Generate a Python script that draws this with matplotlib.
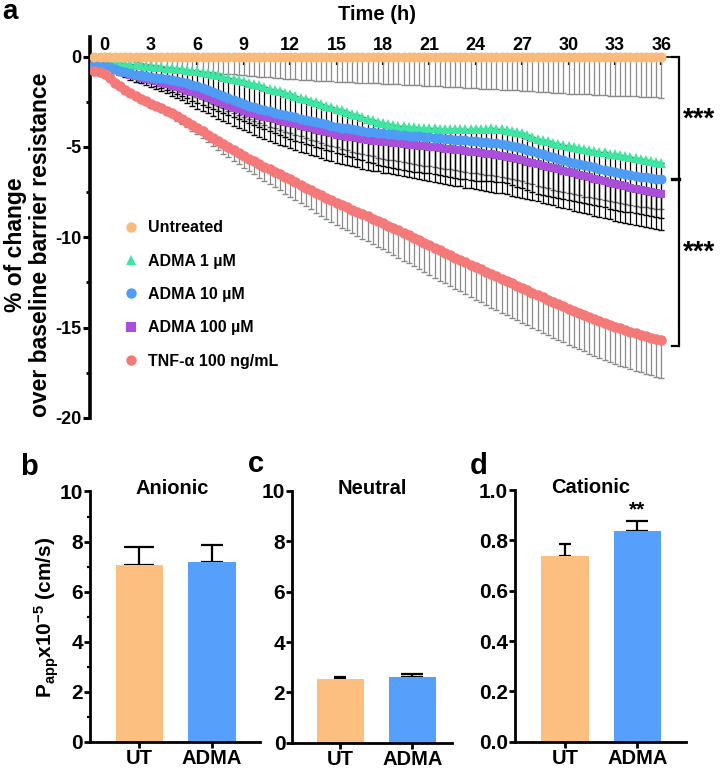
import numpy as np
import matplotlib
matplotlib.use("Agg")
import matplotlib.pyplot as plt
from matplotlib.lines import Line2D

plt.rcParams['font.family'] = ['Liberation Sans', 'DejaVu Sans']
plt.rcParams['font.weight'] = 'bold'
plt.rcParams['axes.unicode_minus'] = False
plt.rcParams['mathtext.fontset'] = 'custom'
plt.rcParams['mathtext.rm'] = 'Liberation Sans:bold'
plt.rcParams['mathtext.it'] = 'Liberation Sans:bold'
plt.rcParams['mathtext.bf'] = 'Liberation Sans:bold'

# ---------------- panel a data: % change of barrier resistance (every 20 min) ----------------
time_min = np.arange(-40, 2161, 20)
time_h = time_min / 60.0

untreated = [
    0.0, 0.0,
    0.0, 0.0, 0.0, 0.0, 0.0, 0.0, 0.0, 0.0, 0.0, 0.0, 0.0, 0.0,
    0.0, 0.0, 0.0, 0.0, 0.0, 0.0, 0.0, 0.0, 0.0, 0.0, 0.0, 0.0,
    0.0, 0.0, 0.0, 0.0, 0.0, 0.0, 0.0, 0.0, 0.0, 0.0, 0.0, 0.0,
    0.0, 0.0, 0.0, 0.0, 0.0, 0.0, 0.0, 0.0, 0.0, 0.0, 0.0, 0.0,
    0.0, 0.0, 0.0, 0.0, 0.0, 0.0, 0.0, 0.0, 0.0, 0.0, 0.0, 0.0,
    0.0, 0.0, 0.0, 0.0, 0.0, 0.0, 0.0, 0.0, 0.0, 0.0, 0.0, 0.0,
    0.0, 0.0, 0.0, 0.0, 0.0, 0.0, 0.0, 0.0, 0.0, 0.0, 0.0, 0.0,
    0.0, 0.0, 0.0, 0.0, 0.0, 0.0, 0.0, 0.0, 0.0, 0.0, 0.0, 0.0,
    0.0, 0.0, 0.0, 0.0, 0.0, 0.0, 0.0, 0.0, 0.0, 0.0, 0.0, 0.0,
    0.0,
]
untreated_err = [
    0.00, 0.00,
    0.00, 0.05, 0.10, 0.15, 0.20, 0.25, 0.30, 0.35, 0.40,
    0.45, 0.49, 0.53, 0.57, 0.61, 0.65, 0.68, 0.72, 0.76,
    0.80, 0.83, 0.86, 0.88, 0.91, 0.94, 0.97, 0.99, 1.02,
    1.05, 1.07, 1.09, 1.12, 1.14, 1.16, 1.18, 1.21, 1.23,
    1.25, 1.27, 1.28, 1.30, 1.32, 1.33, 1.35, 1.37, 1.38,
    1.40, 1.41, 1.42, 1.43, 1.44, 1.46, 1.47, 1.48, 1.49,
    1.50, 1.51, 1.53, 1.54, 1.55, 1.57, 1.58, 1.59, 1.61,
    1.62, 1.63, 1.65, 1.66, 1.68, 1.69, 1.71, 1.72, 1.74,
    1.75, 1.77, 1.78, 1.80, 1.82, 1.83, 1.85, 1.87, 1.88,
    1.90, 1.92, 1.93, 1.95, 1.97, 1.98, 2.00, 2.02, 2.03,
    2.05, 2.06, 2.08, 2.09, 2.10, 2.12, 2.13, 2.14, 2.16,
    2.17, 2.18, 2.19, 2.20, 2.21, 2.23, 2.24, 2.25, 2.26,
    2.27,
]

adma1 = [
    -0.30, -0.31,
    -0.32, -0.34, -0.36, -0.38, -0.41, -0.43, -0.46, -0.49, -0.51,
    -0.54, -0.57, -0.59, -0.62, -0.65, -0.68, -0.71, -0.75, -0.78,
    -0.82, -0.87, -0.93, -0.98, -1.04, -1.11, -1.17, -1.24, -1.30,
    -1.37, -1.45, -1.52, -1.60, -1.68, -1.77, -1.85, -1.93, -2.02,
    -2.10, -2.19, -2.27, -2.36, -2.45, -2.53, -2.62, -2.71, -2.79,
    -2.88, -2.97, -3.07, -3.16, -3.26, -3.35, -3.45, -3.53, -3.62,
    -3.70, -3.74, -3.79, -3.83, -3.86, -3.89, -3.92, -3.94, -3.95,
    -3.97, -3.98, -4.00, -4.01, -4.02, -4.02, -4.03, -4.02, -4.02,
    -4.01, -4.00, -3.99, -3.98, -3.99, -4.01, -4.04, -4.10, -4.18,
    -4.25, -4.35, -4.45, -4.55, -4.63, -4.70, -4.78, -4.84, -4.89,
    -4.95, -5.00, -5.05, -5.10, -5.15, -5.21, -5.26, -5.31, -5.37,
    -5.42, -5.47, -5.53, -5.58, -5.63, -5.69, -5.74, -5.79, -5.85,
    -5.90,
]
adma1_err = [
    0.10, 0.14,
    0.18, 0.27, 0.35, 0.44, 0.52, 0.61, 0.69, 0.78, 0.86,
    0.95, 1.04, 1.13, 1.22, 1.31, 1.39, 1.48, 1.57, 1.66,
    1.75, 1.80, 1.85, 1.90, 1.95, 2.00, 2.05, 2.10, 2.15,
    2.20, 2.23, 2.26, 2.28, 2.31, 2.34, 2.37, 2.39, 2.42,
    2.45, 2.46, 2.46, 2.46, 2.46, 2.46, 2.46, 2.45, 2.45,
    2.45, 2.44, 2.43, 2.42, 2.41, 2.39, 2.38, 2.37, 2.36,
    2.35, 2.37, 2.38, 2.40, 2.42, 2.43, 2.45, 2.47, 2.48,
    2.50, 2.54, 2.58, 2.62, 2.66, 2.69, 2.73, 2.77, 2.81,
    2.85, 2.87, 2.89, 2.92, 2.94, 2.96, 2.98, 3.01, 3.03,
    3.05, 3.04, 3.04, 3.03, 3.03, 3.02, 3.02, 3.01, 3.01,
    3.00, 3.01, 3.01, 3.02, 3.02, 3.03, 3.03, 3.04, 3.04,
    3.05, 3.05, 3.05, 3.05, 3.05, 3.05, 3.05, 3.05, 3.05,
    3.05,
]

adma10 = [
    -0.45, -0.48,
    -0.50, -0.60, -0.70, -0.80, -0.87, -0.93, -1.00, -1.04, -1.09,
    -1.13, -1.17, -1.21, -1.25, -1.31, -1.36, -1.42, -1.49, -1.57,
    -1.64, -1.74, -1.85, -1.95, -2.07, -2.18, -2.30, -2.41, -2.51,
    -2.62, -2.71, -2.79, -2.88, -2.95, -3.03, -3.10, -3.17, -3.23,
    -3.30, -3.37, -3.43, -3.50, -3.57, -3.63, -3.70, -3.76, -3.82,
    -3.88, -3.93, -3.98, -4.03, -4.07, -4.11, -4.15, -4.18, -4.22,
    -4.25, -4.28, -4.30, -4.33, -4.35, -4.38, -4.40, -4.42, -4.45,
    -4.47, -4.50, -4.52, -4.55, -4.57, -4.60, -4.62, -4.64, -4.67,
    -4.69, -4.72, -4.74, -4.77, -4.81, -4.84, -4.88, -4.94, -5.00,
    -5.06, -5.15, -5.23, -5.32, -5.41, -5.49, -5.58, -5.66, -5.74,
    -5.82, -5.89, -5.95, -6.02, -6.08, -6.14, -6.20, -6.26, -6.32,
    -6.38, -6.44, -6.49, -6.55, -6.60, -6.64, -6.69, -6.73, -6.76,
    -6.80,
]
adma10_err = [
    0.03, 0.04,
    0.05, 0.07, 0.09, 0.12, 0.14, 0.16, 0.18, 0.21, 0.23,
    0.25, 0.29, 0.33, 0.37, 0.41, 0.44, 0.48, 0.52, 0.56,
    0.60, 0.62, 0.63, 0.65, 0.67, 0.68, 0.70, 0.72, 0.73,
    0.75, 0.77, 0.79, 0.82, 0.84, 0.86, 0.88, 0.91, 0.93,
    0.95, 0.97, 0.99, 1.02, 1.04, 1.06, 1.08, 1.11, 1.13,
    1.15, 1.18, 1.21, 1.23, 1.26, 1.29, 1.32, 1.34, 1.37,
    1.40, 1.42, 1.44, 1.47, 1.49, 1.51, 1.53, 1.56, 1.58,
    1.60, 1.62, 1.64, 1.66, 1.68, 1.70, 1.72, 1.74, 1.76,
    1.78, 1.79, 1.80, 1.80, 1.81, 1.82, 1.83, 1.83, 1.84,
    1.85, 1.84, 1.83, 1.82, 1.81, 1.79, 1.78, 1.77, 1.76,
    1.75, 1.74, 1.73, 1.73, 1.72, 1.71, 1.70, 1.70, 1.69,
    1.68, 1.68, 1.67, 1.67, 1.67, 1.66, 1.66, 1.66, 1.65,
    1.65,
]

adma100 = [
    -0.45, -0.48,
    -0.50, -0.62, -0.73, -0.85, -0.93, -1.02, -1.10, -1.17, -1.24,
    -1.31, -1.38, -1.45, -1.52, -1.61, -1.69, -1.78, -1.89, -1.99,
    -2.10, -2.21, -2.31, -2.42, -2.53, -2.63, -2.74, -2.84, -2.93,
    -3.03, -3.11, -3.19, -3.27, -3.34, -3.41, -3.48, -3.55, -3.61,
    -3.68, -3.75, -3.83, -3.90, -3.97, -4.05, -4.12, -4.19, -4.25,
    -4.32, -4.37, -4.43, -4.48, -4.52, -4.57, -4.61, -4.65, -4.68,
    -4.72, -4.75, -4.78, -4.81, -4.84, -4.87, -4.90, -4.93, -4.96,
    -4.99, -5.02, -5.06, -5.09, -5.12, -5.16, -5.19, -5.23, -5.26,
    -5.30, -5.34, -5.38, -5.42, -5.47, -5.51, -5.56, -5.62, -5.68,
    -5.74, -5.81, -5.89, -5.96, -6.03, -6.11, -6.18, -6.25, -6.33,
    -6.40, -6.47, -6.55, -6.62, -6.69, -6.77, -6.84, -6.91, -6.98,
    -7.05, -7.12, -7.18, -7.25, -7.31, -7.37, -7.43, -7.49, -7.54,
    -7.60,
]
adma100_err = [
    0.06, 0.08,
    0.10, 0.13, 0.16, 0.19, 0.22, 0.26, 0.29, 0.32, 0.35,
    0.38, 0.42, 0.47, 0.51, 0.56, 0.60, 0.65, 0.69, 0.74,
    0.78, 0.81, 0.84, 0.87, 0.90, 0.93, 0.96, 0.99, 1.02,
    1.05, 1.09, 1.13, 1.17, 1.21, 1.24, 1.28, 1.32, 1.36,
    1.40, 1.42, 1.43, 1.45, 1.47, 1.48, 1.50, 1.52, 1.53,
    1.55, 1.57, 1.58, 1.60, 1.62, 1.63, 1.65, 1.67, 1.68,
    1.70, 1.72, 1.74, 1.77, 1.79, 1.81, 1.83, 1.86, 1.88,
    1.90, 1.92, 1.93, 1.95, 1.97, 1.98, 2.00, 2.02, 2.03,
    2.05, 2.05, 2.05, 2.06, 2.06, 2.06, 2.06, 2.07, 2.07,
    2.07, 2.07, 2.07, 2.06, 2.06, 2.06, 2.06, 2.05, 2.05,
    2.05, 2.05, 2.05, 2.04, 2.04, 2.04, 2.04, 2.03, 2.03,
    2.03, 2.03, 2.02, 2.02, 2.02, 2.01, 2.01, 2.00, 2.00,
    2.00,
]

tnf = [
    -0.80, -0.85,
    -0.95, -1.20, -1.45, -1.65, -1.85, -2.03, -2.20, -2.34, -2.47,
    -2.60, -2.73, -2.87, -3.00, -3.15, -3.30, -3.45, -3.62, -3.78,
    -3.95, -4.13, -4.32, -4.50, -4.67, -4.85, -5.02, -5.18, -5.34,
    -5.50, -5.65, -5.80, -5.95, -6.09, -6.24, -6.38, -6.52, -6.66,
    -6.80, -6.95, -7.10, -7.25, -7.39, -7.54, -7.68, -7.82, -7.96,
    -8.10, -8.23, -8.35, -8.48, -8.60, -8.73, -8.85, -8.97, -9.10,
    -9.22, -9.35, -9.49, -9.62, -9.76, -9.89, -10.03, -10.17, -10.31,
    -10.45, -10.58, -10.72, -10.85, -10.98, -11.12, -11.25, -11.38, -11.52,
    -11.65, -11.78, -11.92, -12.05, -12.17, -12.30, -12.42, -12.55, -12.67,
    -12.80, -12.93, -13.07, -13.20, -13.33, -13.45, -13.58, -13.70, -13.83,
    -13.95, -14.07, -14.18, -14.30, -14.42, -14.53, -14.65, -14.75, -14.85,
    -14.95, -15.04, -15.13, -15.22, -15.31, -15.39, -15.48, -15.55, -15.63,
    -15.70,
]
tnf_err = [
    0.00, 0.00,
    0.00, 0.01, 0.03, 0.04, 0.05, 0.07, 0.08, 0.09, 0.11,
    0.12, 0.15, 0.17, 0.20, 0.22, 0.25, 0.27, 0.30, 0.32,
    0.35, 0.38, 0.42, 0.45, 0.48, 0.52, 0.55, 0.58, 0.62,
    0.65, 0.68, 0.72, 0.75, 0.78, 0.82, 0.85, 0.88, 0.92,
    0.95, 0.98, 1.01, 1.04, 1.07, 1.10, 1.13, 1.16, 1.19,
    1.22, 1.25, 1.27, 1.30, 1.32, 1.35, 1.37, 1.40, 1.42,
    1.45, 1.47, 1.49, 1.52, 1.54, 1.56, 1.58, 1.61, 1.63,
    1.65, 1.67, 1.68, 1.70, 1.72, 1.73, 1.75, 1.77, 1.78,
    1.80, 1.81, 1.83, 1.84, 1.85, 1.87, 1.88, 1.89, 1.91,
    1.92, 1.93, 1.94, 1.95, 1.96, 1.96, 1.97, 1.98, 1.99,
    2.00, 2.01, 2.01, 2.02, 2.02, 2.03, 2.03, 2.04, 2.04,
    2.05, 2.06, 2.06, 2.07, 2.07, 2.08, 2.08, 2.09, 2.09,
    2.10,
]

# ---------------- panels b-d data: permeability ----------------
groups = ['UT', 'ADMA']
anionic = [7.05, 7.20]
anionic_err = [0.72, 0.65]
neutral = [2.55, 2.60]
neutral_err = [0.08, 0.12]
cationic = [0.739, 0.838]
cationic_err = [0.045, 0.040]

c_orange = '#F9BB7B'
c_green = '#3FE6A2'
c_blue = '#4E9CF4'
c_purple = '#A94FD9'
c_red = '#F37A78'
bar_orange = '#FCBF80'
bar_blue = '#569FFA'

W, H = 726, 769
fig = plt.figure(figsize=(W / 100, H / 100), dpi=100)


def px_rect(left, top, right, bottom):
    return [left / W, 1 - bottom / H, (right - left) / W, (bottom - top) / H]


# ---------------- panel a ----------------
ax = fig.add_axes(px_rect(90, 37, 674, 418))
t = time_h
zero = np.zeros(len(t))
eb = dict(fmt='none', capsize=2.0, elinewidth=0.9, capthick=1.0)
ax.errorbar(t, tnf, yerr=[tnf_err, zero], ecolor='#8a8a8a', zorder=2, **eb)
ax.errorbar(t, untreated, yerr=[untreated_err, zero], ecolor='#8a8a8a', zorder=2, **eb)
ax.errorbar(t, adma10, yerr=[adma10_err, zero], ecolor='#707070', zorder=2, **eb)
ax.errorbar(t, adma1, yerr=[adma1_err, zero], ecolor='black', zorder=3, **eb)
ax.errorbar(t, adma100, yerr=[adma100_err, zero], ecolor='black', zorder=3, **eb)

mk = dict(ls='none', mew=0)
ax.plot(t, adma100, marker='s', ms=6.2, color=c_purple, zorder=5, **mk)
ax.plot(t, adma1, marker='^', ms=7.0, color=c_green, zorder=6, **mk)
ax.plot(t, adma10, marker='o', ms=7.2, color=c_blue, zorder=7, **mk)
ax.plot(t, tnf, marker='o', ms=7.6, color=c_red, zorder=7, **mk)
ax.plot(t, untreated, marker='o', ms=7.2, color=c_orange, zorder=8, **mk)

ax.set_xlim(-0.95, 36.82)
ax.set_ylim(-20, 1.08)
ax.spines['right'].set_visible(False)
ax.spines['bottom'].set_visible(False)
ax.spines['top'].set_position(('data', 0))
ax.spines['top'].set_linewidth(1.2)
ax.spines['left'].set_linewidth(2.6)
ax.xaxis.set_ticks_position('top')
ax.set_xticks(np.arange(0, 37, 3))
ax.tick_params(axis='x', direction='in', length=6, width=1.6, pad=2, labelsize=13)
ax.set_yticks([0, -5, -10, -15, -20])
ax.set_yticks([-2.5, -7.5, -12.5, -17.5], minor=True)
ax.tick_params(axis='y', which='major', direction='out', length=5, width=2.2, pad=1, labelsize=13)
ax.tick_params(axis='y', which='minor', direction='out', length=3, width=2.0)
for lab in ax.get_xticklabels() + ax.get_yticklabels():
    lab.set_fontweight('bold')

# significance brackets
adma_end = np.mean([adma1[-1], adma10[-1], adma100[-1]])
y_top = untreated[-1]
y_mid = adma_end
y_bot = tnf[-1] - 0.3
xb = t[-1] + 1.15
xt = t[-1] + 0.7
ax.plot([xt, xb, xb, xt], [y_top, y_top, y_bot, y_bot], color='black', lw=1.6,
        clip_on=False, solid_joinstyle='miter')
ax.plot([xt, xb], [y_mid, y_mid], color='black', lw=2.4, clip_on=False)
ax.text(t[-1] + 1.4, (y_top + y_mid) / 2 - 0.1, '***', fontsize=20, ha='left', va='center',
        clip_on=False)
ax.text(t[-1] + 1.4, (y_mid + y_bot) / 2 + 0.55, '***', fontsize=20, ha='left', va='center',
        clip_on=False)

labels_a = ['Untreated', 'ADMA 1 µM', 'ADMA 10 µM', 'ADMA 100 µM', 'TNF-α 100 ng/mL']
handles = [
    Line2D([], [], ls='none', marker='o', ms=7.5, color=c_orange, mew=0),
    Line2D([], [], ls='none', marker='^', ms=7.0, color=c_green, mew=0),
    Line2D([], [], ls='none', marker='o', ms=7.5, color=c_blue, mew=0),
    Line2D([], [], ls='none', marker='s', ms=6.5, color=c_purple, mew=0),
    Line2D([], [], ls='none', marker='o', ms=7.5, color=c_red, mew=0),
]
fig.legend(handles, labels_a, loc='center left', bbox_to_anchor=(123 / W, 1 - 294.5 / H),
           frameon=False, handlelength=1.0, handletextpad=0.56,
           labelspacing=1.15, borderpad=0, borderaxespad=0,
           prop={'weight': 'bold', 'size': 11.5})

fig.text(377 / W, 1 - 15 / H, 'Time (h)', fontsize=14.5, ha='center', va='center')
fig.text(28 / W, 1 - 245 / H, '% of change\nover baseline barrier resistance', fontsize=16.5,
         rotation=90, ha='center', va='center', multialignment='center', linespacing=1.15)
fig.text(10 / W, 1 - 12 / H, 'a', fontsize=20, ha='center', va='center')


# ---------------- panels b-d ----------------
def bar_panel(rect, vals, errs, caps, ymax, yticks, ticklabels, title, title_x, minor=None):
    bx = fig.add_axes(rect)
    xs = np.arange(len(groups))
    bx.bar(xs, vals, width=0.655, color=[bar_orange, bar_blue], zorder=2)
    for x, v, e, c in zip(xs, vals, errs, caps):
        bx.errorbar(x, v, yerr=[[0], [e]], fmt='none', ecolor='black', elinewidth=1.6,
                    capsize=c / 2.78, capthick=1.6, zorder=1)
    bx.set_ylim(0, ymax)
    bx.set_yticks(yticks)
    bx.set_yticklabels(ticklabels)
    if minor is not None:
        bx.set_yticks(minor, minor=True)
        bx.tick_params(axis='y', which='minor', direction='out', length=2.5, width=1.6)
    bx.set_xticks(xs)
    bx.set_xticklabels(groups)
    bx.spines['top'].set_visible(False)
    bx.spines['right'].set_visible(False)
    bx.spines['left'].set_linewidth(2.0)
    bx.spines['bottom'].set_linewidth(2.0)
    bx.tick_params(axis='y', which='major', direction='out', length=4, width=2.0, pad=1,
                   labelsize=15)
    bx.tick_params(axis='x', direction='out', length=4, width=2.0, pad=1, labelsize=14.5)
    for lab in bx.get_xticklabels() + bx.get_yticklabels():
        lab.set_fontweight('bold')
    bx.text(title_x, 1.01, title, transform=bx.transAxes, ha='center', va='center',
            fontsize=14.5)
    return bx


ax_b = bar_panel(px_rect(90, 491.5, 260, 741.7), anionic, anionic_err, [31, 23], 10,
                 [0, 2, 4, 6, 8, 10], ['0', '2', '4', '6', '8', '10'], 'Anionic', 0.486,
                 minor=[1, 3, 5, 7, 9])
ax_b.set_xlim(-0.68, 1.66)
ax_c = bar_panel(px_rect(292.3, 491, 452, 742.7), neutral, neutral_err, [12, 23], 10,
                 [0, 2, 4, 6, 8, 10], ['0', '2', '4', '6', '8', '10'], 'Neutral', 0.5)
ax_c.set_xlim(-0.67, 1.55)
ax_d = bar_panel(px_rect(515, 490, 686, 741.7), cationic, cationic_err, [13, 23], 1.0,
                 [0, 0.2, 0.4, 0.6, 0.8, 1.0], ['0.0', '0.2', '0.4', '0.6', '0.8', '1.0'],
                 'Cationic', 0.444)
ax_d.set_xlim(-0.69, 1.675)
ax_d.text(1, cationic[1] + cationic_err[1] + 0.005, '**', ha='center', va='bottom', fontsize=15)

fig.text(47 / W, 1 - 617 / H, r'P$_{app}$x10$^{-5}$ (cm/s)', fontsize=15, rotation=90,
         ha='center', va='center')
fig.text(29 / W, 1 - 467 / H, 'b', fontsize=21, ha='center', va='center')
fig.text(256 / W, 1 - 464 / H, 'c', fontsize=21, ha='center', va='center')
fig.text(479 / W, 1 - 466 / H, 'd', fontsize=21, ha='center', va='center')

fig.savefig('out.png', dpi=100)
